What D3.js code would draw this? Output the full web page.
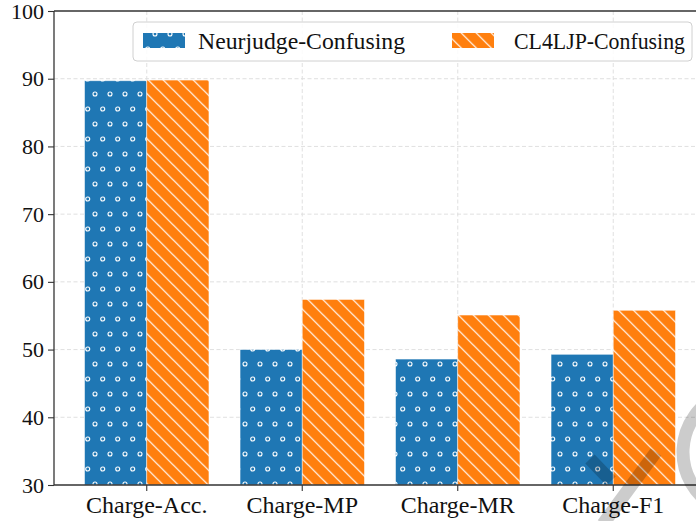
<!DOCTYPE html>
<html>
<head>
<meta charset="utf-8">
<script src="https://cdn.jsdelivr.net/npm/d3@7"></script>
<style>
  html, body { margin: 0; padding: 0; background: #fff; }
  svg { display: block; }
</style>
</head>
<body>
<svg id="chart" width="696" height="521"></svg>
<script>
// Charge prediction metrics, Neurjudge vs CL4LJP on the confusing set
const categories = ["Charge-Acc.", "Charge-MP", "Charge-MR", "Charge-F1"];
const seriesNames = ["Neurjudge-Confusing", "CL4LJP-Confusing"];
const neurjudgeValues = [89.7, 50.0, 48.6, 49.3];
const cl4ljpValues = [89.8, 57.4, 55.1, 55.8];
const yTicks = [30, 40, 50, 60, 70, 80, 90, 100];

const FONT = "'Liberation Serif', 'Times New Roman', serif";
const svg = d3.select("#chart");
const W = 696, H = 521;
const plotLeft = 54, plotTop = 11, plotBottom = 485;

const colors = ["#1f77b4", "#ff7f0e"];

// hatch patterns: small rings for Neurjudge, back-slash lines for CL4LJP
const defs = svg.append("defs");
const dots = defs.append("pattern")
  .attr("id", "dots").attr("patternUnits", "userSpaceOnUse")
  .attr("width", 15).attr("height", 30);
dots.append("rect").attr("width", 15).attr("height", 30).attr("fill", colors[0]);
[[5, 4], [12.7, 19], [-2.3, 19], [5, 34], [12.7, -11]].forEach(([px, py]) => {
  dots.append("circle").attr("cx", px).attr("cy", py).attr("r", 2)
    .attr("fill", "none").attr("stroke", "#fff").attr("stroke-width", 1.1);
});
const diag = defs.append("pattern")
  .attr("id", "diag").attr("patternUnits", "userSpaceOnUse")
  .attr("x", 8.3).attr("width", 15).attr("height", 15);
diag.append("rect").attr("width", 15).attr("height", 15).attr("fill", colors[1]);
diag.append("path").attr("d", "M-1,-1L16,16M-1,14L1,16M14,-1L16,1")
  .attr("stroke", "#fff").attr("stroke-width", 1.2).attr("fill", "none");
const fills = ["url(#dots)", "url(#diag)"];

const x = d3.scaleBand().domain(categories).range([69, 691]).padding(0);
const y = d3.scaleLinear().domain([30, 100]).range([plotBottom, plotTop]);
const barW = x.bandwidth() * 0.4;
const cx = c => x(c) + x.bandwidth() / 2;

// dashed grid
const grid = svg.append("g").attr("stroke", "#dcdcdc").attr("stroke-width", 0.9)
  .attr("stroke-dasharray", "4,2.5");
grid.selectAll("line.h").data(yTicks.slice(1, -1)).join("line").attr("class", "h")
  .attr("x1", plotLeft).attr("x2", W).attr("y1", d => y(d)).attr("y2", d => y(d));
grid.selectAll("line.v").data(categories).join("line").attr("class", "v")
  .attr("x1", cx).attr("x2", cx).attr("y1", plotTop).attr("y2", plotBottom);

// bars
const series = [neurjudgeValues, cl4ljpValues];
series.forEach((vals, s) => {
  svg.append("g").selectAll("rect").data(categories).join("rect")
    .attr("x", (c) => cx(c) + (s - 1) * barW)
    .attr("width", barW)
    .attr("y", (c, i) => y(vals[i]))
    .attr("height", (c, i) => y(30) - y(vals[i]))
    .attr("fill", fills[s])
    .attr("stroke", "rgba(255,255,255,0.6)").attr("stroke-width", 0.8);
});

// axes
const yAxis = d3.axisLeft(y).tickValues(yTicks).tickSize(6).tickPadding(4);
const gy = svg.append("g").attr("transform", `translate(${plotLeft},0)`).call(yAxis);
gy.select(".domain").remove();
gy.selectAll("line").attr("stroke", "#333").attr("stroke-width", 1.1);
gy.selectAll("text").style("font-family", FONT).style("font-size", "22px").attr("fill", "#111");

const xAxis = d3.axisBottom(x).tickSize(6).tickPadding(5);
const gx = svg.append("g").attr("transform", `translate(0,${plotBottom})`).call(xAxis);
gx.select(".domain").remove();
gx.selectAll("line").attr("stroke", "#333").attr("stroke-width", 1.1);
gx.selectAll("text").style("font-family", FONT).style("font-size", "24px").attr("fill", "#111");

// spines
const sp = svg.append("g").attr("stroke", "#333").attr("stroke-width", 1.3).attr("fill", "none");
sp.append("line").attr("x1", plotLeft).attr("x2", plotLeft).attr("y1", plotTop).attr("y2", plotBottom);
sp.append("line").attr("x1", plotLeft).attr("x2", W).attr("y1", plotTop).attr("y2", plotTop);
sp.append("line").attr("x1", plotLeft).attr("x2", W).attr("y1", plotBottom).attr("y2", plotBottom);

// legend
const lg = svg.append("g");
lg.append("rect").attr("x", 133).attr("y", 22).attr("width", 559).attr("height", 39)
  .attr("rx", 4).attr("fill", "rgba(255,255,255,0.85)").attr("stroke", "#d0d0d0");
const lx = [143, 452], tx = [198, 514], tw = [207, 171];
seriesNames.forEach((n, s) => {
  lg.append("rect").attr("x", lx[s]).attr("y", 33).attr("width", 42).attr("height", 15)
    .attr("fill", fills[s]);
  lg.append("text").attr("x", tx[s]).attr("y", 49)
    .style("font-family", FONT).style("font-size", "23px").attr("fill", "#111")
    .attr("textLength", tw[s]).attr("lengthAdjust", "spacingAndGlyphs")
    .text(n);
});

// translucent grey mark in the lower right corner
const wm = svg.append("g").attr("fill", "none").attr("stroke", "rgba(0,0,0,0.2)").attr("stroke-width", 13);
wm.append("path").attr("d", "M590,459L611,481M603,524L656,452");
const arcPath = d3.path();
arcPath.arc(745, 452, 62, -Math.PI * 0.62, -Math.PI * 1.35, true);
wm.append("path").attr("d", arcPath.toString());
</script>
</body>
</html>
